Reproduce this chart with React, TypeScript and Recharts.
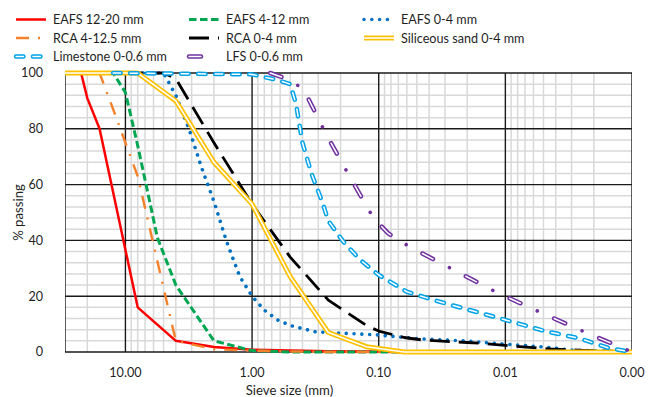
import React from 'react';
import { LineChart, Line, XAxis, YAxis } from 'recharts';

const W = 651;
const H = 397;
const FONT = 'Lato, "Liberation Sans", sans-serif';
const FONT_SIZE = 12.6;
const TEXT = '#1f1f1f';

// Particle size distributions: sieve size (mm) and cumulative % passing
const eafs1220Sizes = [30, 22.4, 20, 16, 8, 4, 2, 1, 0.5, 0.25, 0.125, 0.063, 0.001];
const eafs1220Pass = [100, 100, 91, 80, 16, 4, 1.8, 0.8, 0.5, 0.3, 0.2, 0, 0];

const eafs412Sizes = [30, 12.5, 10, 8, 6.3, 5.6, 4, 2, 1, 0.5, 0.001];
const eafs412Pass = [100, 100, 93, 74, 52, 41, 24, 4, 0.5, 0, 0];

const eafs04Sizes = [30, 5, 4, 3.15, 2.5, 2, 1.6, 1.25, 1, 0.8, 0.63, 0.5, 0.315, 0.1, 0.05, 0.02, 0.01, 0.005, 0.003, 0.001];
const eafs04Pass = [100, 100, 92, 80, 66, 54, 40, 27, 20, 15, 11.5, 9.5, 7.2, 6.1, 4.8, 3.9, 2.8, 1.8, 0.7, 0];

const rca4125Sizes = [30, 16, 12.5, 10, 8, 4, 2, 1, 0.5, 0.25, 0.001];
const rca4125Pass = [100, 100, 87, 75, 63, 4, 1, 0.5, 0.2, 0, 0];

const rca04Sizes = [30, 5, 4, 2, 1, 0.5, 0.25, 0.125, 0.1, 0.063, 0.045, 0.02, 0.015, 0.0077, 0.0044, 0.0024, 0.001];
const rca04Pass = [100, 100, 98, 75, 53, 34, 18.6, 9.5, 7.5, 5.2, 4.3, 3.4, 3.1, 1.9, 1.1, 0.6, 0];

const sandSizes = [30, 8, 4, 2, 1, 0.5, 0.25, 0.125, 0.063, 0.001];
const sandPass = [100, 100, 90, 68, 53, 27, 7, 1.9, 0, 0];

const limestoneSizes = [12.5, 1, 0.63, 0.5, 0.45, 0.4, 0.34, 0.28, 0.25, 0.19, 0.14, 0.1, 0.06, 0.033, 0.018, 0.01, 0.0047, 0.0026, 0.0015, 0.001];
const limestonePass = [100, 99.5, 97.5, 96, 89, 75, 64, 54, 47, 39.5, 33, 27.6, 21.6, 18, 14.7, 11.5, 7.3, 4.9, 1.3, 0];

const lfsSizes = [0.72, 0.5, 0.39, 0.26, 0.17, 0.11, 0.084, 0.057, 0.026, 0.012, 0.0053, 0.0024, 0.0016, 0.001];
const lfsPass = [100, 97.5, 94, 78, 63, 48, 42.5, 37.7, 29.6, 21.6, 14.2, 7.3, 3.9, 0];

// Axis ticks
const X_DOMAIN: [number, number] = [0.001, 30];
const Y_DOMAIN: [number, number] = [0, 100];
const xLabelTicks = [10, 1, 0.1, 0.01, 0.001];
const xMajorGrid = [30, 10, 1, 0.1, 0.01, 0.001];
const yTicks = [0, 20, 40, 60, 80, 100];

// Light grid: 2..9 within every decade, and every 4 % on the y axis
const xMinorGrid: number[] = [];
[0.001, 0.01, 0.1, 1, 10].forEach((base) => {
  for (let k = 2; k <= 9; k++) {
    const v = +(base * k).toPrecision(3);
    if (v < X_DOMAIN[1]) xMinorGrid.push(v);
  }
});
const yMinorGrid: number[] = [];
for (let v = 4; v < 100; v += 4) if (v % 20 !== 0) yMinorGrid.push(v);

type Stroke = { color: string; width: number; dash?: string; cap?: 'round' | 'butt'; offset?: number };
type Series = { name: string; sizes: number[]; pass: number[]; strokes: Stroke[] };

const limestoneDash = '7.5 9.5';
const lfsDash = '12 37';

const series: Series[] = [
  { name: 'EAFS 12-20 mm', sizes: eafs1220Sizes, pass: eafs1220Pass, strokes: [{ color: '#ff0000', width: 2.5 }] },
  { name: 'EAFS 4-12 mm', sizes: eafs412Sizes, pass: eafs412Pass, strokes: [{ color: '#00a651', width: 3, dash: '7.5 3.5' }] },
  { name: 'EAFS 0-4 mm', sizes: eafs04Sizes, pass: eafs04Pass, strokes: [{ color: '#0070c0', width: 3.6, dash: '0.01 7.8', cap: 'round' }] },
  { name: 'RCA 4-12.5 mm', sizes: rca4125Sizes, pass: rca4125Pass, strokes: [{ color: '#f5822a', width: 2.4, dash: '13 9 2 9' }] },
  { name: 'RCA 0-4 mm', sizes: rca04Sizes, pass: rca04Pass, strokes: [{ color: '#000000', width: 2.8, dash: '20 9' }] },
  {
    name: 'Siliceous sand 0-4 mm', sizes: sandSizes, pass: sandPass,
    strokes: [{ color: '#ffc000', width: 5 }, { color: '#ffffff', width: 1.6 }],
  },
  {
    name: 'Limestone 0-0.6 mm', sizes: limestoneSizes, pass: limestonePass,
    strokes: [
      { color: '#00a2e8', width: 4.5, dash: limestoneDash, cap: 'round' },
      { color: '#ffffff', width: 1.5, dash: limestoneDash, cap: 'round' },
    ],
  },
  {
    name: 'LFS 0-0.6 mm', sizes: lfsSizes, pass: lfsPass,
    strokes: [
      { color: '#7030a0', width: 4.5, dash: lfsDash, cap: 'round' },
      { color: '#ffffff', width: 1.5, dash: lfsDash, cap: 'round' },
      { color: '#7030a0', width: 3.6, dash: '0.01 48.99', cap: 'round', offset: 18.5 },
    ],
  },
];

const toPoints = (sizes: number[], pass: number[]) => sizes.map((d, i) => ({ d, p: pass[i] }));

// Grid lines are drawn as two-point series so they sit beneath the curves
const gridLines = [
  ...xMinorGrid.map((v) => ({ key: `gx${v}`, data: [{ d: v, p: Y_DOMAIN[0] }, { d: v, p: Y_DOMAIN[1] }], major: false })),
  ...yMinorGrid.map((v) => ({ key: `gy${v}`, data: [{ d: X_DOMAIN[0], p: v }, { d: X_DOMAIN[1], p: v }], major: false })),
  ...xMajorGrid.map((v) => ({ key: `Gx${v}`, data: [{ d: v, p: Y_DOMAIN[0] }, { d: v, p: Y_DOMAIN[1] }], major: true })),
  ...yTicks.map((v) => ({ key: `Gy${v}`, data: [{ d: X_DOMAIN[0], p: v }, { d: X_DOMAIN[1], p: v }], major: true })),
];

// Legend layout: rows of three, reading left to right
const legendCols = [14, 187, 362];
const legendRows = [19.5, 38, 56.5];

function LegendBox() {
  return (
    <svg width={W} height={70} style={{ position: 'absolute', left: 0, top: 0 }}>
      {series.map((s, i) => {
        const x = legendCols[i % 3];
        const y = legendRows[Math.floor(i / 3)];
        return (
          <g key={s.name}>
            {s.strokes.map((st, j) => (
              <line
                key={j}
                x1={x + 2}
                x2={x + 32}
                y1={y}
                y2={y}
                stroke={st.color}
                strokeWidth={st.width}
                strokeDasharray={st.dash}
                strokeDashoffset={st.offset}
                strokeLinecap={st.cap || 'butt'}
              />
            ))}
            <text x={x + 39} y={y} dominantBaseline="central" fontFamily={FONT} fontSize={FONT_SIZE} fill={TEXT}>
              {s.name}
            </text>
          </g>
        );
      })}
    </svg>
  );
}

export default function App() {
  const axisTick = { fontFamily: FONT, fontSize: FONT_SIZE, fill: TEXT };
  return (
    <div style={{ position: 'absolute', left: 0, top: 0, width: W, height: H, background: '#fff' }}>
      <LineChart width={W} height={H} margin={{ top: 73, right: 19, bottom: 0, left: 5 }}>
        <XAxis
          dataKey="d"
          type="number"
          scale="log"
          domain={X_DOMAIN}
          allowDataOverflow
          reversed
          ticks={xLabelTicks}
          tickFormatter={(v: number) => v.toFixed(2)}
          axisLine={false}
          tickLine={false}
          tickSize={0}
          tickMargin={16}
          height={45}
          tick={axisTick}
          label={{ value: 'Sieve size (mm)', position: 'insideBottom', offset: 2, dx: -59, style: { fontFamily: FONT, fontSize: 13.2, fill: TEXT } }}
        />
        <YAxis
          type="number"
          domain={Y_DOMAIN}
          ticks={yTicks}
          axisLine={false}
          tickLine={false}
          tickSize={0}
          tickMargin={22}
          width={60}
          tick={axisTick}
          label={{ value: '% passing', angle: -90, position: 'center', dx: -17, style: { fontFamily: FONT, fontSize: 13.2, fill: TEXT, textAnchor: 'middle' } }}
        />
        {gridLines.map((g) => (
          <Line
            key={g.key}
            data={g.data}
            dataKey="p"
            type="linear"
            stroke={g.major ? '#1a1a1a' : '#d9d9d9'}
            strokeWidth={g.major ? 1.4 : 1.5}
            dot={false}
            activeDot={false}
            legendType="none"
            isAnimationActive={false}
          />
        ))}
        {series.map((s) =>
          s.strokes.map((st, j) => (
            <Line
              key={`${s.name}-${j}`}
              data={toPoints(s.sizes, s.pass)}
              dataKey="p"
              name={s.name}
              type="linear"
              stroke={st.color}
              strokeWidth={st.width}
              strokeDasharray={st.dash}
              strokeDashoffset={st.offset}
              strokeLinecap={st.cap || 'butt'}
              strokeLinejoin="round"
              dot={false}
              activeDot={false}
              legendType="none"
              isAnimationActive={false}
            />
          ))
        )}
      </LineChart>
      <LegendBox />
    </div>
  );
}
